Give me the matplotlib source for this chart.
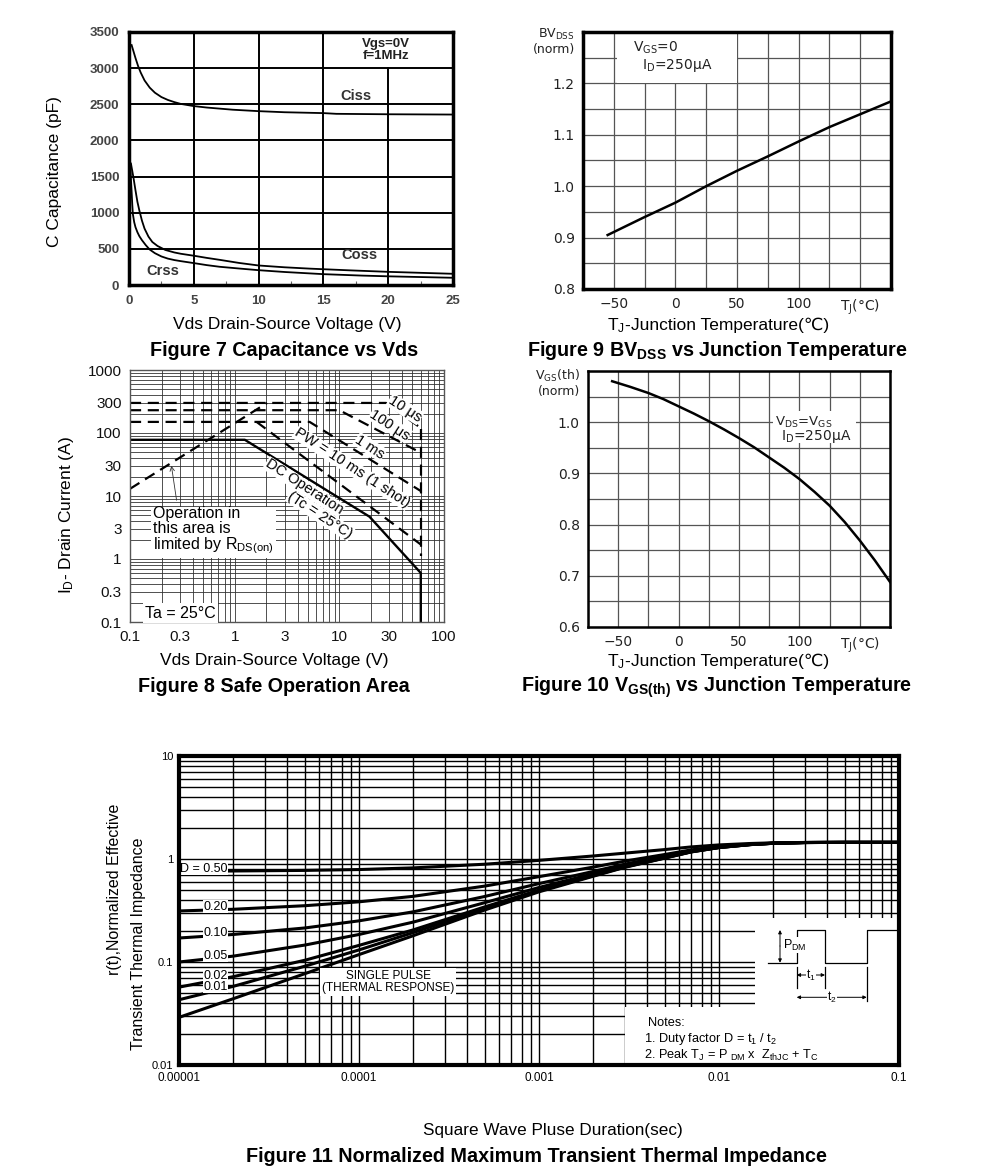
import numpy as np
import matplotlib
matplotlib.use("Agg")
import matplotlib.pyplot as plt
from matplotlib.patches import Rectangle, FancyArrowPatch
from matplotlib.lines import Line2D
from matplotlib.ticker import NullFormatter, LogLocator

plt.rcParams['font.family'] = ['Liberation Sans', 'DejaVu Sans']
plt.rcParams['mathtext.fontset'] = 'custom'
plt.rcParams['mathtext.rm'] = 'Liberation Sans'
plt.rcParams['mathtext.it'] = 'Liberation Sans:italic'
plt.rcParams['mathtext.bf'] = 'Liberation Sans:bold'
plt.rcParams['mathtext.default'] = 'regular'
plt.rcParams['mathtext.fallback'] = 'stixsans'

W, H = 991, 1171

# ---------------- Figure 7 : capacitance ----------------
ciss_vds = [0.2, 0.35, 0.5, 0.7, 0.9, 1.2, 1.6, 2, 2.5, 3, 3.5, 4, 5, 6, 7, 8, 10, 12, 15, 16, 20, 25]
ciss_pf = [3320, 3230, 3140, 3030, 2940, 2830, 2730, 2660, 2600, 2560, 2530, 2505, 2475, 2455,
           2440, 2425, 2405, 2390, 2378, 2368, 2362, 2358]
coss_vds = [0.15, 0.25, 0.35, 0.5, 0.65, 0.8, 1.0, 1.2, 1.5, 1.8, 2.2, 2.8, 3.5, 4, 5, 6, 7, 8.5,
            10, 12, 14, 17, 20, 25]
coss_pf = [1680, 1580, 1480, 1310, 1150, 1030, 890, 780, 670, 595, 540, 485, 450, 432, 405, 375,
           348, 305, 270, 245, 226, 203, 182, 155]
crss_vds = [0.05, 0.08, 0.12, 0.16, 0.2, 0.25, 0.3, 0.4, 0.5, 0.65, 0.8, 1.0, 1.3, 1.6, 2.0, 2.5,
            3, 3.5, 4, 5, 6, 7, 8.5, 10, 12, 15, 18, 20, 25]
crss_pf = [1760, 1700, 1580, 1430, 1300, 1120, 980, 870, 800, 730, 675, 620, 550, 490, 440, 395,
           365, 345, 330, 303, 275, 252, 228, 205, 180, 150, 130, 120, 100]
cap_xticks = [0, 5, 10, 15, 20, 25]
cap_xminor = [2.5, 7.5, 12.5, 17.5, 22.5]
cap_yticks = [0, 500, 1000, 1500, 2000, 2500, 3000, 3500]

# ---------------- Figure 9 : BVdss ----------------
bv_tj = [-55, -25, 0, 25, 50, 75, 100, 125, 150, 175]
bv_norm = [0.905, 0.94, 0.968, 1.0, 1.03, 1.058, 1.087, 1.115, 1.14, 1.165]
bv_yticks = [0.8, 0.9, 1.0, 1.1, 1.2]
bv_yticklabels = ['0.8', '0.9', '1.0', '1.1', '1.2']

# ---------------- Figure 10 : Vgs(th) ----------------
vth_tj = [-55, -40, -25, -12.5, 0, 12.5, 25, 37.5, 50, 62.5, 75, 87.5, 100, 112.5, 125, 137.5,
          150, 162.5, 175]
vth_norm = [1.080, 1.069, 1.057, 1.045, 1.031, 1.017, 1.002, 0.986, 0.969, 0.951, 0.931, 0.911,
            0.889, 0.864, 0.837, 0.805, 0.769, 0.730, 0.688]
vth_yticks = [0.6, 0.7, 0.8, 0.9, 1.0]
vth_yticklabels = ['0.6', '0.7', '0.8', '0.9', '1.0']

tj_ticks = [-50, 0, 50, 100, 150]
tj_ticklabels = ['\u221250', '0', '50', '100', 'T$_J$(°C)']
tj_minor = [-75, -50, -25, 0, 25, 50, 75, 100, 125, 150, 175]

# ---------------- Figure 8 : SOA ----------------
rds_v = [0.1, 2.04]
rds_i = [13, 300]
pw10us_v = [0.1, 28, 60]
pw10us_i = [300, 300, 120]
pw100us_v = [0.1, 10, 58]
pw100us_i = [230, 230, 50]
pw1ms_v = [0.1, 5.2, 60]
pw1ms_i = [150, 150, 12]
pw10ms_v = [1.62, 60]
pw10ms_i = [150, 1.7]
dc_v = [0.1, 1.25, 19.4, 60, 60]
dc_i = [78, 78, 4.7, 0.6, 0.1]
vmax_v = [60, 60]
vmax_i = [115, 1.1]
soa_xticks = [0.1, 0.3, 1, 3, 10, 30, 100]
soa_xticklabels = ['0.1', '0.3', '1', '3', '10', '30', '100']
soa_yticks = [0.1, 0.3, 1, 3, 10, 30, 100, 300, 1000]
soa_yticklabels = ['0.1', '0.3', '1', '3', '10', '30', '100', '300', '1000']

# ---------------- Figure 11 : transient thermal impedance ----------------
zth_t = [1e-5, 2e-5, 5e-5, 1e-4, 2e-4, 5e-4, 1e-3, 2e-3, 3e-3, 5e-3, 7e-3,
         1e-2, 1.5e-2, 2e-2, 3e-2, 5e-2, 1e-1]
zth_d050 = [0.76, 0.765, 0.775, 0.79, 0.82, 0.89, 0.97, 1.07, 1.14, 1.235, 1.31, 1.37, 1.415, 1.435, 1.448, 1.45, 1.45]
zth_d020 = [0.313, 0.325, 0.352, 0.384, 0.434, 0.546, 0.674, 0.834, 0.954, 1.106, 1.226, 1.322, 1.394, 1.426, 1.446, 1.45, 1.45]
zth_d010 = [0.171, 0.185, 0.214, 0.251, 0.307, 0.433, 0.577, 0.757, 0.892, 1.063, 1.198, 1.306, 1.387, 1.423, 1.446, 1.45, 1.45]
zth_d005 = [0.100, 0.114, 0.146, 0.185, 0.244, 0.377, 0.529, 0.719, 0.861, 1.042, 1.184, 1.298, 1.384, 1.422, 1.445, 1.45, 1.45]
zth_d002 = [0.057, 0.072, 0.104, 0.145, 0.205, 0.343, 0.499, 0.695, 0.842, 1.029, 1.176, 1.293, 1.381, 1.421, 1.445, 1.45, 1.45]
zth_d001 = [0.043, 0.058, 0.091, 0.131, 0.193, 0.331, 0.49, 0.688, 0.836, 1.024, 1.173, 1.292, 1.381, 1.42, 1.445, 1.45, 1.45]
zth_single = [0.029, 0.044, 0.077, 0.118, 0.18, 0.32, 0.48, 0.68, 0.83, 1.02, 1.17, 1.29, 1.38, 1.42, 1.445, 1.45, 1.45]
zth_labels = ['D = 0.50', '0.20', '0.10', '0.05', '0.02', '0.01']
zth_label_y = [0.80, 0.344, 0.19, 0.115, 0.073, 0.0575]
zth_xticks = [1e-5, 1e-4, 1e-3, 1e-2, 1e-1]
zth_xticklabels = ['0.00001', '0.0001', '0.001', '0.01', '0.1']
zth_yticks = [0.01, 0.1, 1, 10]
zth_yticklabels = ['0.01', '0.1', '1', '10']

fig = plt.figure(figsize=(W / 100, H / 100), dpi=100)


def rect(l, t, r, b):
    return [l / W, 1 - b / H, (r - l) / W, (b - t) / H]


def fx(px):
    return px / W


def fy(py):
    return 1 - py / H


def ftext(px, py, s, **kw):
    return fig.text(fx(px), fy(py), s, **kw)


def fline(xs, ys, **kw):
    fig.add_artist(Line2D([fx(x) for x in xs], [fy(y) for y in ys],
                          transform=fig.transFigure, **kw))


def tj_xlabel(xsplit, ybase):
    ftext(xsplit, ybase, 'T$_J$-', ha='right', va='baseline', fontsize=12.5)
    ftext(xsplit, ybase, 'Junction Temperature(\u2103)', ha='left', va='baseline', fontsize=12.5)


DV = dict(family='DejaVu Sans', math_fontfamily='dejavusans')

# ======================= Figure 7 =======================
ax7 = fig.add_axes(rect(129, 32, 453, 285))
ax7.set_axisbelow(True)
for xs, ys in [(ciss_vds, ciss_pf), (coss_vds, coss_pf), (crss_vds, crss_pf)]:
    ax7.plot(xs, ys, color='k', lw=1.3, zorder=2)
ax7.set_xlim(0, 25)
ax7.set_ylim(0, 3500)
ax7.set_xticks(cap_xticks)
ax7.set_xticks(cap_xminor, minor=True)
ax7.set_yticks(cap_yticks)
ax7.grid(True, which='major', color='k', lw=1.4)
ax7.tick_params(which='major', length=0, labelsize=9.5, labelcolor='#444', pad=7)
ax7.tick_params(which='minor', direction='in', length=3, width=0.8, color='#666')
for lb in ax7.get_xticklabels() + ax7.get_yticklabels():
    lb.set_fontweight('bold')
for s in ax7.spines.values():
    s.set_linewidth(2.5)
ax7.text(19.8, 3255, 'Vgs=0V\nf=1MHz', ha='center', va='center', fontsize=9.5,
         fontweight='bold', linespacing=1.0, color='#222',
         bbox=dict(fc='white', ec='none', pad=3.5), zorder=2.2)
ax7.text(17.5, 2615, 'Ciss', ha='center', va='center', fontsize=10.5, fontweight='bold', color='#333')
ax7.text(17.8, 410, 'Coss', ha='center', va='center', fontsize=10.5, fontweight='bold', color='#333')
ax7.text(2.6, 195, 'Crss', ha='center', va='center', fontsize=10.5, fontweight='bold', color='#333')
ftext(55, 172, 'C Capacitance (pF)', rotation=90, ha='center', va='center', fontsize=12.5)
ftext(287, 324, 'Vds Drain-Source Voltage (V)', ha='center', va='center', fontsize=12.5)
ftext(284, 350, 'Figure 7 Capacitance vs Vds', ha='center', va='center', fontsize=14.2, fontweight='bold')

# ======================= Figure 9 =======================
ax9 = fig.add_axes(rect(583, 32, 891, 289))
ax9.set_axisbelow(True)
ax9.plot(bv_tj, bv_norm, color='k', lw=1.8, zorder=2)
ax9.set_xlim(-75, 175)
ax9.set_ylim(0.8, 1.3)
ax9.set_xticks(tj_ticks)
ax9.set_xticklabels(tj_ticklabels)
ax9.set_xticks(tj_minor, minor=True)
ax9.set_yticks(bv_yticks)
ax9.set_yticklabels(bv_yticklabels)
ax9.set_yticks([0.8 + 0.05 * k for k in range(11)], minor=True)
ax9.grid(True, which='both', color='#555', lw=0.9)
ax9.tick_params(which='both', length=0, labelsize=10, labelcolor='#222', pad=6)
for lb in ax9.get_xticklabels() + ax9.get_yticklabels():
    lb.set_family('DejaVu Sans')
    lb.set_math_fontfamily('dejavusans')
for s in ax9.spines.values():
    s.set_linewidth(2.5)
ax9.add_patch(Rectangle((-47.6, 1.2), 97.4, 0.1, fc='white', ec='none', zorder=1))
ftext(633, 48, 'V$_{GS}$=0', ha='left', va='center', fontsize=10, color='#222', **DV)
ftext(642, 65, 'I$_D$=250$\\mu$A', ha='left', va='center', fontsize=10, color='#222', **DV)
ftext(575, 34, 'BV$_{DSS}$', ha='right', va='center', fontsize=9, color='#222', **DV)
ftext(575, 50, '(norm)', ha='right', va='center', fontsize=9, color='#222', **DV)
tj_xlabel(631, 330)
ftext(717, 350, 'Figure 9 BV$_{\\mathbf{DSS}}$ vs Junction Temperature', ha='center', va='center',
      fontsize=14.2, fontweight='bold')

# ======================= Figure 10 =======================
ax10 = fig.add_axes(rect(588, 371, 890, 627))
ax10.set_axisbelow(True)
ax10.plot(vth_tj, vth_norm, color='k', lw=1.8, zorder=2)
ax10.set_xlim(-75, 175)
ax10.set_ylim(0.6, 1.1)
ax10.set_xticks(tj_ticks)
ax10.set_xticklabels(tj_ticklabels)
ax10.set_xticks(tj_minor, minor=True)
ax10.set_yticks(vth_yticks)
ax10.set_yticklabels(vth_yticklabels)
ax10.set_yticks([0.6 + 0.05 * k for k in range(11)], minor=True)
ax10.grid(True, which='both', color='#555', lw=0.9)
ax10.tick_params(which='both', length=0, labelsize=10, labelcolor='#222', pad=6)
for lb in ax10.get_xticklabels() + ax10.get_yticklabels():
    lb.set_family('DejaVu Sans')
    lb.set_math_fontfamily('dejavusans')
for s in ax10.spines.values():
    s.set_linewidth(1.8)
ax10.add_patch(Rectangle((78, 0.96), 69, 0.061, fc='white', ec='none', zorder=1))
ftext(775, 422, 'V$_{DS}$=V$_{GS}$', ha='left', va='center', fontsize=9.5, color='#222', **DV)
ftext(781, 437, 'I$_D$=250$\\mu$A', ha='left', va='center', fontsize=10, color='#222', **DV)
ftext(580, 376, 'V$_{GS}$(th)', ha='right', va='center', fontsize=9, color='#222', **DV)
ftext(580, 391, '(norm)', ha='right', va='center', fontsize=9, color='#222', **DV)
tj_xlabel(631, 666)
ftext(717, 687, 'Figure 10 V$_{\\mathbf{GS(th)}}$ vs Junction Temperature', ha='center', va='center',
      fontsize=14.2, fontweight='bold')

# ======================= Figure 8 =======================
ax8 = fig.add_axes(rect(130, 370, 444, 622))
ax8.set_axisbelow(True)
ax8.set_xscale('log')
ax8.set_yscale('log')
dash = dict(color='k', lw=1.6, ls=(0, (5, 3)), zorder=2)
ax8.plot(rds_v, rds_i, **dash)
ax8.plot(pw10us_v, pw10us_i, **dash)
ax8.plot(pw100us_v, pw100us_i, **dash)
ax8.plot(pw1ms_v, pw1ms_i, **dash)
ax8.plot(pw10ms_v, pw10ms_i, **dash)
ax8.plot(vmax_v, vmax_i, **dash)
ax8.plot(dc_v, dc_i, color='k', lw=1.7, zorder=2)
ax8.set_xlim(0.1, 100)
ax8.set_ylim(0.1, 1000)
ax8.set_xticks(soa_xticks)
ax8.set_xticklabels(soa_xticklabels)
ax8.set_yticks(soa_yticks)
ax8.set_yticklabels(soa_yticklabels)
ax8.xaxis.set_minor_locator(LogLocator(base=10, subs=np.arange(2, 10)))
ax8.yaxis.set_minor_locator(LogLocator(base=10, subs=np.arange(2, 10)))
ax8.xaxis.set_minor_formatter(NullFormatter())
ax8.yaxis.set_minor_formatter(NullFormatter())
ax8.grid(True, which='both', color='#333', lw=0.6)
ax8.tick_params(which='both', length=0, labelsize=11, labelcolor='#111', pad=6)
for s in ax8.spines.values():
    s.set_linewidth(1.0)
    s.set_color('#555')
rot_kw = dict(ha='center', va='center', fontsize=10.5, rotation=-33, rotation_mode='anchor',
              bbox=dict(fc='white', ec='none', pad=0.3), zorder=3)
ftext(405, 409, '10 \u03bcs', **rot_kw)
ftext(390, 425, '100 \u03bcs', **rot_kw)
ftext(370, 447, '1 ms', **rot_kw)
ftext(352, 468, 'PW = 10 ms (1 shot)', **rot_kw)
ftext(304, 487, 'DC Operation', **rot_kw)
ftext(320, 515, '(Tc = 25°C)', **rot_kw)
ftext(153, 531, 'Operation in\nthis area is\nlimited by R$_{DS(on)}$', ha='left', va='center',
      fontsize=11.5, linespacing=1.0, bbox=dict(fc='white', ec='none', pad=1.5), zorder=3)
ftext(145, 613, 'Ta = 25°C', ha='left', va='center', fontsize=11.5,
      bbox=dict(fc='white', ec='none', pad=1.5), zorder=3)
fig.add_artist(FancyArrowPatch((fx(177), fy(503)), (fx(171), fy(463)),
                               transform=fig.transFigure, arrowstyle='->',
                               mutation_scale=8, lw=0.6, color='#333'))
ftext(66, 515, 'I$_D$- Drain Current (A)', rotation=90, ha='center', va='center', fontsize=12.5)
ftext(274, 661, 'Vds Drain-Source Voltage (V)', ha='center', va='center', fontsize=12.5)
ftext(274, 687, 'Figure 8 Safe Operation Area', ha='center', va='center', fontsize=14.2, fontweight='bold')

# ======================= Figure 11 =======================
ax11 = fig.add_axes(rect(179, 756, 899, 1065))
ax11.set_axisbelow(True)
ax11.set_xscale('log')
ax11.set_yscale('log')
for ys in [zth_d050, zth_d020, zth_d010, zth_d005, zth_d002, zth_d001, zth_single]:
    ax11.plot(zth_t, ys, color='k', lw=2.2, zorder=2, solid_capstyle='butt')
ax11.set_xlim(1e-5, 0.1)
ax11.set_ylim(0.01, 10)
ax11.set_xticks(zth_xticks)
ax11.set_xticklabels(zth_xticklabels)
ax11.set_yticks(zth_yticks)
ax11.set_yticklabels(zth_yticklabels)
ax11.xaxis.set_minor_locator(LogLocator(base=10, subs=np.arange(2, 10)))
ax11.yaxis.set_minor_locator(LogLocator(base=10, subs=np.arange(2, 10)))
ax11.xaxis.set_minor_formatter(NullFormatter())
ax11.yaxis.set_minor_formatter(NullFormatter())
ax11.grid(True, which='both', color='k', lw=1.0)
ax11.tick_params(axis='x', which='both', length=0, labelsize=8.5, pad=5)
ax11.tick_params(axis='y', which='both', length=0, labelsize=8, pad=4)
for s in ax11.spines.values():
    s.set_linewidth(3)
ax11.add_patch(Rectangle((0.619, 0), 0.381, 0.188, transform=ax11.transAxes, fc='white', ec='none', zorder=1))
ax11.add_patch(Rectangle((0.8, 0), 0.2, 0.476, transform=ax11.transAxes, fc='white', ec='none', zorder=1))
for lab, yv in zip(zth_labels, zth_label_y):
    ax11.text(1.87e-5, yv, lab, ha='right', va='center', fontsize=9, zorder=2.2,
              bbox=dict(fc='white', ec='none', pad=0.3))
ax11.text(1.45e-4, 0.064, 'SINGLE PULSE\n(THERMAL RESPONSE)', ha='center', va='center', fontsize=8.5,
          linespacing=1.0, zorder=2.2, bbox=dict(fc='white', ec='none', pad=1.5))

# pulse inset
lk = dict(color='k', lw=0.9)
fline([768, 796.7, 796.7, 825, 825, 866.7, 866.7, 896], [962.7, 962.7, 930, 930, 962.7, 962.7, 930, 930], **lk)
fline([796.7, 796.7], [967, 988], **lk)
fline([825, 825], [967, 988], **lk)
fline([866.7, 866.7], [967, 1001], **lk)
for (x0, y0, x1, y1) in [(780, 946, 780, 930), (780, 946, 780, 962.7),
                         (811, 975, 796.7, 975), (811, 975, 825, 975),
                         (832, 997.3, 796.7, 997.3), (832, 997.3, 866.7, 997.3)]:
    fig.add_artist(FancyArrowPatch((fx(x0), fy(y0)), (fx(x1), fy(y1)),
                                   transform=fig.transFigure, arrowstyle='-|>',
                                   mutation_scale=5, lw=0.7, color='k',
                                   shrinkA=0, shrinkB=0))
ftext(783, 945, 'P$_{DM}$', ha='left', va='center', fontsize=9,
      bbox=dict(fc='white', ec='none', pad=0.2))
ftext(811, 975, 't$_1$', ha='center', va='center', fontsize=8.5,
      bbox=dict(fc='white', ec='none', pad=0.2))
ftext(832, 997.3, 't$_2$', ha='center', va='center', fontsize=8.5,
      bbox=dict(fc='white', ec='none', pad=0.2))
ftext(648, 1022.7, 'Notes:', ha='left', va='center', fontsize=9.2)
ftext(644, 1039, '1. Duty factor D = t$_1$ / t$_2$', ha='left', va='center', fontsize=9.2)
ftext(644, 1055, '2. Peak T$_J$ = P $_{DM}$ x  Z$_{thJC}$ + T$_C$', ha='left', va='center', fontsize=9.2)

ftext(115, 889, 'r(t),Normalized Effective', rotation=90, ha='center', va='center', fontsize=11.5)
ftext(138, 944, 'Transient Thermal Impedance', rotation=90, ha='center', va='center', fontsize=11.5)
ftext(553, 1131, 'Square Wave Pluse Duration(sec)', ha='center', va='center', fontsize=12.3)
ftext(536, 1156, 'Figure 11 Normalized Maximum Transient Thermal Impedance', ha='center', va='center',
      fontsize=14.2, fontweight='bold')

fig.savefig('out.png', dpi=100, facecolor='white')
